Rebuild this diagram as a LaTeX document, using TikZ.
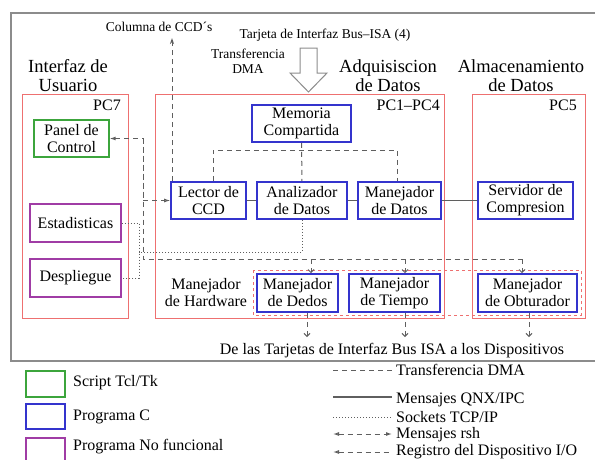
\documentclass[tikz,border=0pt]{standalone}
\usepackage{fontspec}
\setmainfont{Liberation Serif}
\usetikzlibrary{arrows.meta}
\definecolor{pcred}{RGB}{238,112,112}
\definecolor{cblue}{RGB}{52,52,205}
\definecolor{tclgreen}{RGB}{60,165,60}
\definecolor{nfpurple}{RGB}{160,60,165}
\definecolor{linegray}{RGB}{95,95,95}
\definecolor{framegray}{RGB}{140,140,140}

\begin{document}
\begin{tikzpicture}[x=1pt,y=-1pt,
  every node/.style={font=\fontsize{16}{17}\selectfont, align=center, inner sep=0pt},
  pcbox/.style={draw=pcred, line width=0.9pt},
  prog/.style={draw=cblue, line width=1.6pt},
  tclbox/.style={draw=tclgreen, line width=1.4pt},
  nofun/.style={draw=nfpurple, line width=1.4pt},
  dma/.style={draw=linegray, dash pattern=on 5pt off 4pt, line width=1pt},
  qnx/.style={draw=linegray, line width=1.5pt},
  tcp/.style={draw=linegray, dash pattern=on 1pt off 2pt, line width=0.9pt},
  rsh/.style={draw=linegray, dash pattern=on 5pt off 4pt, line width=1pt, >={Latex[open,length=6pt,width=4pt]}},
  iobus/.style={draw=linegray, dash pattern=on 5pt off 4pt, line width=1pt, >={Straight Barb[length=3pt,width=6pt]}},
  smalltext/.style={font=\fontsize{13.5}{15}\selectfont},
  areatitle/.style={font=\fontsize{18.5}{19}\selectfont},
]
\useasboundingbox (0,0) rectangle (595,459);
\clip (0,0) rectangle (595,459);

% Outer frame
\draw[framegray, line width=1.3pt] (11,13) rectangle (605,361);

% Computers
\draw[pcbox] (22,94) rectangle (128,318); % PC7
\draw[pcbox] (155,94) rectangle (444,318); % PC1-PC4
\draw[pcbox] (472,94) rectangle (585,318); % PC5
\draw[pcbox, dashed] (253,270) rectangle (581,315); % hardware drivers

% Area titles
\node[areatitle] (tUsuario) at (68,76) {Interfaz de\\Usuario};
\node[areatitle] (tAdq) at (388,76) {Adquisiscion\\de Datos};
\node[areatitle] (tAlm) at (521,76) {Almacenamiento\\de Datos};
\node[anchor=east] (pcSeven) at (121,105) {PC7};
\node[anchor=east] (pcOne) at (440,105) {PC1--PC4};
\node[anchor=east] (pcFive) at (577,105) {PC5};

% Programs
\node[tclbox, minimum width=75pt, minimum height=37pt] (panel) at (71.5,138.5) {Panel de\\Control};
\node[nofun, minimum width=91pt, minimum height=38pt] (estad) at (75.5,223) {Estadisticas};
\node[nofun, minimum width=91pt, minimum height=38pt] (despl) at (75.5,278) {Despliegue};
\node[prog, minimum width=99pt, minimum height=37pt] (memoria) at (301.5,123.5) {Memoria\\Compartida};
\node[prog, minimum width=75pt, minimum height=37pt] (lector) at (208.5,200.5) {Lector de\\CCD};
\node[prog, minimum width=90pt, minimum height=37pt] (analiz) at (302,200.5) {Analizador\\de Datos};
\node[prog, minimum width=83pt, minimum height=37pt] (manDatos) at (399.5,200.5) {Manejador\\de Datos};
\node[prog, minimum width=95pt, minimum height=37pt] (servidor) at (525.5,200.5) {Servidor de\\Compresion};
\node[prog, minimum width=81pt, minimum height=38pt] (dedos) at (297.5,293) {Manejador\\de Dedos};
\node[prog, minimum width=91pt, minimum height=38pt] (tiempo) at (394.5,293) {Manejador\\de Tiempo};
\node[prog, minimum width=99pt, minimum height=38pt] (obtur) at (527.5,293) {Manejador\\de Obturador};
\node (hardware) at (206,293) {Manejador\\de Hardware};

% Top labels and DMA arrow
\node[smalltext] (colLabel) at (159,27) {Columna de CCD´s};
\node[smalltext] (isaLabel) at (325,35) {Tarjeta de Interfaz Bus--ISA (4)};
\node[smalltext] (dmaLabel) at (248,61) {Transferencia\\DMA};
\draw[framegray, line width=1pt, fill=white] (300,48) -- (317,48) -- (317,73) -- (327,73)
  -- (308.5,92) -- (290,73) -- (300,73) -- cycle;

% Shared memory (DMA)
\coordinate (busL) at (213,150);
\coordinate (busR) at (397,150);
\draw[dma] (memoria) -- (analiz);
\draw[dma] (lector.north -| busL) -- (busL) -- (busR) -- (manDatos.north -| busR);
\coordinate (colTop) at (172,38);
\draw[dma, -{Stealth[length=6pt,width=4pt]}] (lector.north -| colTop) -- (colTop);

% QNX messages
\draw[qnx] (lector) -- (analiz);
\draw[qnx] (analiz) -- (manDatos);
\draw[qnx] (manDatos) -- (servidor);

% rsh messages and device registers
\coordinate (rshX) at (143,138.5);
\coordinate (ioL) at (143,259);
\coordinate (ioR) at (522,259);
\draw[rsh, <->] (panel.east) -- (rshX) |- (lector.west);
\draw[iobus] (rshX) -- (ioL) -- (ioR);
\foreach \xa/\hw in {311/dedos, 405/tiempo, 522/obtur}
  \draw[iobus, ->] (\xa,259) -- (\hw.north -| \xa,0);
\foreach \xb/\hw in {307/dedos, 405/tiempo, 529/obtur}
  \draw[iobus, ->] (\hw.south -| \xb,0) -- (\xb,337);
\node (devLabel) at (392,351) {De las Tarjetas de Interfaz Bus ISA a los Dispositivos};

% TCP/IP sockets
\coordinate (tcpX) at (139,252);
\draw[tcp] (estad.east) -| (tcpX) |- (despl.east);
\draw[tcp] (analiz.south) |- (tcpX);

% Legend
\draw[tclbox] (26,371) rectangle (65,397);
\draw[prog] (26,404) rectangle (65,429);
\draw[nofun] (26,438) rectangle (65,466);
\node[anchor=west] (lgTcl) at (73,383) {Script Tcl/Tk};
\node[anchor=west] (lgC) at (73,417) {Programa C};
\node[anchor=west] (lgNf) at (73,447) {Programa No funcional};
\draw[dma] (333,370) -- (392,370);
\draw[qnx] (333,397) -- (392,397);
\draw[tcp] (333,417) -- (392,417);
\draw[rsh, <->] (333,434) -- (392,434);
\draw[rsh, <-] (333,452) -- (392,452);
\node[anchor=west] (lgDma) at (396,370) {Transferencia DMA};
\node[anchor=west] (lgQnx) at (396,400) {Mensajes QNX/IPC};
\node[anchor=west] (lgTcp) at (396,417) {Sockets TCP/IP};
\node[anchor=west] (lgRsh) at (396,435) {Mensajes rsh};
\node[anchor=west] (lgIo) at (396,452) {Registro del Dispositivo I/O};

\end{tikzpicture}
\end{document}
